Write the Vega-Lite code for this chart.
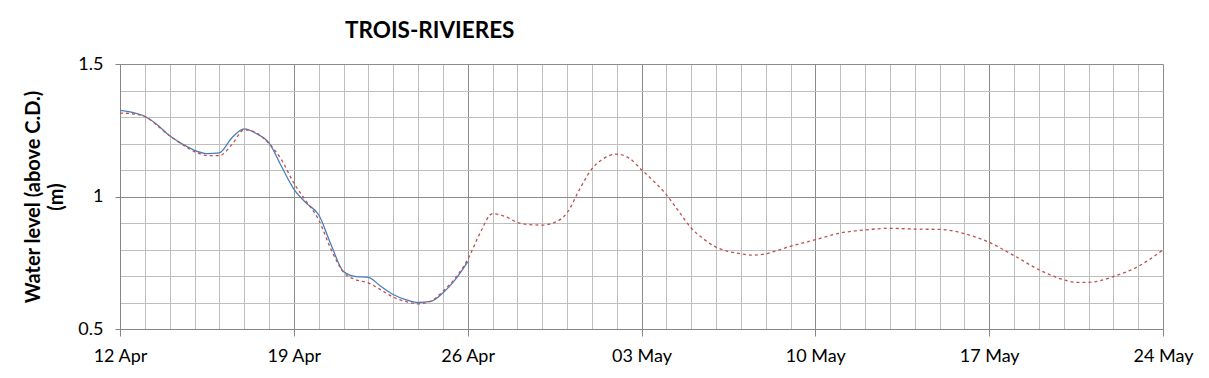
{
  "$schema": "https://vega.github.io/schema/vega-lite/v6.json",
  "width": 1043,
  "height": 265,
  "autosize": "none",
  "padding": {"left": 120, "top": 64, "right": 46, "bottom": 49},
  "background": "white",
  "config": {
    "view": {"stroke": null},
    "font": "Lato"
  },
  "title": {
    "text": "TROIS-RIVIERES",
    "anchor": "start",
    "frame": "group",
    "dx": 225,
    "offset": 13,
    "fontSize": 22.5,
    "fontWeight": "bold",
    "font": "Lato",
    "color": "#000000"
  },
  "datasets": {
    "observed": [
      {"date": "2019-04-12T00:00:00Z", "level": 1.325},
      {"date": "2019-04-12T12:00:00Z", "level": 1.317},
      {"date": "2019-04-13T00:00:00Z", "level": 1.302},
      {"date": "2019-04-13T12:00:00Z", "level": 1.271},
      {"date": "2019-04-14T00:00:00Z", "level": 1.229},
      {"date": "2019-04-14T12:00:00Z", "level": 1.199},
      {"date": "2019-04-15T00:00:00Z", "level": 1.174},
      {"date": "2019-04-15T12:00:00Z", "level": 1.162},
      {"date": "2019-04-16T00:00:00Z", "level": 1.165},
      {"date": "2019-04-16T12:00:00Z", "level": 1.221},
      {"date": "2019-04-17T00:00:00Z", "level": 1.255},
      {"date": "2019-04-17T12:00:00Z", "level": 1.237},
      {"date": "2019-04-18T00:00:00Z", "level": 1.202},
      {"date": "2019-04-18T12:00:00Z", "level": 1.114},
      {"date": "2019-04-19T00:00:00Z", "level": 1.028},
      {"date": "2019-04-19T12:00:00Z", "level": 0.975},
      {"date": "2019-04-20T00:00:00Z", "level": 0.931},
      {"date": "2019-04-20T12:00:00Z", "level": 0.818},
      {"date": "2019-04-21T00:00:00Z", "level": 0.717},
      {"date": "2019-04-21T12:00:00Z", "level": 0.698},
      {"date": "2019-04-22T00:00:00Z", "level": 0.695},
      {"date": "2019-04-22T12:00:00Z", "level": 0.661},
      {"date": "2019-04-23T00:00:00Z", "level": 0.630},
      {"date": "2019-04-23T12:00:00Z", "level": 0.611},
      {"date": "2019-04-24T00:00:00Z", "level": 0.600},
      {"date": "2019-04-24T12:00:00Z", "level": 0.604},
      {"date": "2019-04-25T00:00:00Z", "level": 0.636},
      {"date": "2019-04-25T12:00:00Z", "level": 0.686},
      {"date": "2019-04-26T00:00:00Z", "level": 0.753}
    ],
    "predicted": [
      {"date": "2019-04-12T00:00:00Z", "level": 1.315},
      {"date": "2019-04-12T12:00:00Z", "level": 1.312},
      {"date": "2019-04-13T00:00:00Z", "level": 1.302},
      {"date": "2019-04-13T12:00:00Z", "level": 1.268},
      {"date": "2019-04-14T00:00:00Z", "level": 1.229},
      {"date": "2019-04-14T12:00:00Z", "level": 1.197},
      {"date": "2019-04-15T00:00:00Z", "level": 1.169},
      {"date": "2019-04-15T12:00:00Z", "level": 1.155},
      {"date": "2019-04-16T00:00:00Z", "level": 1.154},
      {"date": "2019-04-16T12:00:00Z", "level": 1.195},
      {"date": "2019-04-17T00:00:00Z", "level": 1.252},
      {"date": "2019-04-17T12:00:00Z", "level": 1.240},
      {"date": "2019-04-18T00:00:00Z", "level": 1.200},
      {"date": "2019-04-18T12:00:00Z", "level": 1.139},
      {"date": "2019-04-19T00:00:00Z", "level": 1.051},
      {"date": "2019-04-19T12:00:00Z", "level": 0.982},
      {"date": "2019-04-20T00:00:00Z", "level": 0.912},
      {"date": "2019-04-20T12:00:00Z", "level": 0.800},
      {"date": "2019-04-21T00:00:00Z", "level": 0.714},
      {"date": "2019-04-21T12:00:00Z", "level": 0.686},
      {"date": "2019-04-22T00:00:00Z", "level": 0.674},
      {"date": "2019-04-22T12:00:00Z", "level": 0.648},
      {"date": "2019-04-23T00:00:00Z", "level": 0.620},
      {"date": "2019-04-23T12:00:00Z", "level": 0.604},
      {"date": "2019-04-24T00:00:00Z", "level": 0.595},
      {"date": "2019-04-24T12:00:00Z", "level": 0.604},
      {"date": "2019-04-25T00:00:00Z", "level": 0.642},
      {"date": "2019-04-25T12:00:00Z", "level": 0.692},
      {"date": "2019-04-26T00:00:00Z", "level": 0.762},
      {"date": "2019-04-26T12:00:00Z", "level": 0.862},
      {"date": "2019-04-27T00:00:00Z", "level": 0.935},
      {"date": "2019-04-27T12:00:00Z", "level": 0.925},
      {"date": "2019-04-28T00:00:00Z", "level": 0.902},
      {"date": "2019-04-28T12:00:00Z", "level": 0.894},
      {"date": "2019-04-29T00:00:00Z", "level": 0.892},
      {"date": "2019-04-29T12:00:00Z", "level": 0.902},
      {"date": "2019-04-30T00:00:00Z", "level": 0.938},
      {"date": "2019-04-30T12:00:00Z", "level": 1.026},
      {"date": "2019-05-01T00:00:00Z", "level": 1.104},
      {"date": "2019-05-01T12:00:00Z", "level": 1.145},
      {"date": "2019-05-02T00:00:00Z", "level": 1.160},
      {"date": "2019-05-02T12:00:00Z", "level": 1.145},
      {"date": "2019-05-03T00:00:00Z", "level": 1.101},
      {"date": "2019-05-03T12:00:00Z", "level": 1.057},
      {"date": "2019-05-04T00:00:00Z", "level": 1.007},
      {"date": "2019-05-04T12:00:00Z", "level": 0.944},
      {"date": "2019-05-05T00:00:00Z", "level": 0.881},
      {"date": "2019-05-05T12:00:00Z", "level": 0.840},
      {"date": "2019-05-06T00:00:00Z", "level": 0.809},
      {"date": "2019-05-06T12:00:00Z", "level": 0.793},
      {"date": "2019-05-07T00:00:00Z", "level": 0.784},
      {"date": "2019-05-07T12:00:00Z", "level": 0.779},
      {"date": "2019-05-08T00:00:00Z", "level": 0.784},
      {"date": "2019-05-08T12:00:00Z", "level": 0.797},
      {"date": "2019-05-09T00:00:00Z", "level": 0.812},
      {"date": "2019-05-10T00:00:00Z", "level": 0.837},
      {"date": "2019-05-11T00:00:00Z", "level": 0.862},
      {"date": "2019-05-12T00:00:00Z", "level": 0.874},
      {"date": "2019-05-13T00:00:00Z", "level": 0.880},
      {"date": "2019-05-14T00:00:00Z", "level": 0.877},
      {"date": "2019-05-15T00:00:00Z", "level": 0.876},
      {"date": "2019-05-16T00:00:00Z", "level": 0.860},
      {"date": "2019-05-17T00:00:00Z", "level": 0.827},
      {"date": "2019-05-18T00:00:00Z", "level": 0.777},
      {"date": "2019-05-19T00:00:00Z", "level": 0.724},
      {"date": "2019-05-20T00:00:00Z", "level": 0.686},
      {"date": "2019-05-20T12:00:00Z", "level": 0.676},
      {"date": "2019-05-21T00:00:00Z", "level": 0.676},
      {"date": "2019-05-21T12:00:00Z", "level": 0.683},
      {"date": "2019-05-22T00:00:00Z", "level": 0.698},
      {"date": "2019-05-23T00:00:00Z", "level": 0.736},
      {"date": "2019-05-24T00:00:00Z", "level": 0.799}
    ]
  },
  "layer": [
    {
      "data": {"name": "observed"},
      "mark": {"type": "line", "color": "#4A7EBB", "strokeWidth": 1.3, "interpolate": "monotone", "clip": true},
      "encoding": {
        "x": {
          "field": "date",
          "type": "temporal",
          "scale": {"type": "utc", "domain": [1555027200000, 1558656000000]},
          "axis": {
            "title": null,
            "tickCount": 100,
            "values": [1555027200000, 1555113600000, 1555200000000, 1555286400000, 1555372800000, 1555459200000, 1555545600000, 1555632000000, 1555718400000, 1555804800000, 1555891200000, 1555977600000, 1556064000000, 1556150400000, 1556236800000, 1556323200000, 1556409600000, 1556496000000, 1556582400000, 1556668800000, 1556755200000, 1556841600000, 1556928000000, 1557014400000, 1557100800000, 1557187200000, 1557273600000, 1557360000000, 1557446400000, 1557532800000, 1557619200000, 1557705600000, 1557792000000, 1557878400000, 1557964800000, 1558051200000, 1558137600000, 1558224000000, 1558310400000, 1558396800000, 1558483200000, 1558569600000, 1558656000000],
            "labelExpr": "round((datum.value - 1555027200000) / 86400000) % 7 == 0 ? utcFormat(datum.value, '%d %b') : ''",
            "labelFont": "Lato",
            "labelFontSize": 18,
            "labelColor": "#000000",
            "labelPadding": 11,
            "labelOverlap": false,
            "labelFlush": false,
            "domainColor": "#868686",
            "domainWidth": 1,
            "tickColor": "#868686",
            "tickSize": {"condition": {"test": "round((datum.value - 1555027200000) / 86400000) % 7 == 0", "value": 7}, "value": 0},
            "grid": true,
            "gridColor": {"condition": {"test": "round((datum.value - 1555027200000) / 86400000) % 7 == 0", "value": "#8C8C8C"}, "value": "#BFBFBF"},
            "gridWidth": 1,
            "gridOpacity": 1
          }
        },
        "y": {
          "field": "level",
          "type": "quantitative",
          "scale": {"domain": [0.5, 1.5], "nice": false, "zero": false},
          "axis": {
            "title": ["Water level (above C.D.)", "(m)"],
            "titleFont": "Lato",
            "titleFontSize": 20,
            "titleFontWeight": "bold",
            "titleColor": "#000000",
            "titleLineHeight": 23,
            "titlePadding": 11,
            "tickCount": 50,
            "values": [0.5, 0.6, 0.7, 0.8, 0.9, 1.0, 1.1, 1.2, 1.3, 1.4, 1.5],
            "labelExpr": "round(datum.value * 10) % 5 == 0 ? format(datum.value, '') : ''",
            "labelFont": "Lato",
            "labelFontSize": 18,
            "labelColor": "#000000",
            "labelPadding": 12,
            "labelOverlap": false,
            "labelFlush": false,
            "domainColor": "#868686",
            "tickColor": "#868686",
            "tickSize": {"condition": {"test": "round(datum.value * 10) % 5 == 0", "value": 5}, "value": 0},
            "grid": true,
            "gridColor": {"condition": {"test": "round(datum.value * 10) % 5 == 0", "value": "#8C8C8C"}, "value": "#BFBFBF"},
            "gridWidth": 1,
            "gridOpacity": 1
          }
        }
      }
    },
    {
      "data": {"name": "predicted"},
      "mark": {"type": "line", "color": "#C0504D", "strokeWidth": 1.3, "strokeDash": [3, 3], "interpolate": "monotone", "clip": true},
      "encoding": {
        "x": {"field": "date", "type": "temporal"},
        "y": {"field": "level", "type": "quantitative"}
      }
    }
  ]
}
